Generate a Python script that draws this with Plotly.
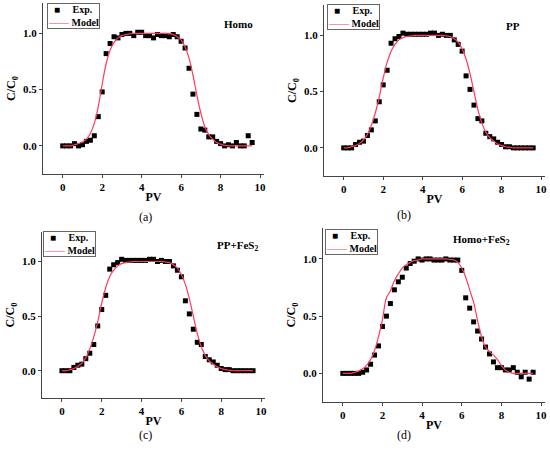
import plotly.graph_objects as go

# PV sampling of the experimental points (every 0.2 pore volume)
pv = [round(0.2 * i, 1) for i in range(49)]

exp_homo = [0.0, 0.0, 0.0, 0.02, 0.0, 0.01, 0.04, 0.05, 0.09, 0.26,
            0.48, 0.82, 0.91, 0.97, 0.96, 0.99, 1.0, 1.0, 0.98, 1.01,
            1.01, 0.98, 0.98, 0.96, 0.99, 0.98, 0.98, 0.97, 0.99, 0.97,
            0.93, 0.87, 0.69, 0.46, 0.28, 0.15, 0.14, 0.08, 0.08, 0.04,
            0.02, 0.0, 0.01, 0.0, 0.03, 0.0, 0.0, 0.09, 0.03]

exp_pp = [0.0, 0.0, 0.0, 0.03, 0.05, 0.06, 0.11, 0.16, 0.24, 0.41,
          0.56, 0.69, 0.93, 0.97, 0.99, 1.02, 1.01, 1.01, 1.01, 1.01,
          1.01, 1.01, 1.02, 1.02, 1.0, 1.01, 1.0, 1.0, 0.96, 0.92,
          0.86, 0.64, 0.52, 0.38, 0.26, 0.24, 0.13, 0.1, 0.08, 0.05,
          0.03, 0.01, 0.01, 0.0, 0.0, 0.0, 0.0, 0.0, 0.0]

exp_pp_fes2 = [0.0, 0.0, 0.0, 0.03, 0.05, 0.06, 0.11, 0.16, 0.24, 0.41,
               0.56, 0.69, 0.93, 0.97, 0.99, 1.02, 1.01, 1.01, 1.01, 1.01,
               1.01, 1.01, 1.02, 1.02, 1.0, 1.01, 1.0, 1.0, 0.96, 0.92,
               0.86, 0.64, 0.52, 0.38, 0.26, 0.24, 0.13, 0.1, 0.08, 0.05,
               0.02, 0.01, 0.01, 0.0, 0.0, 0.0, 0.0, 0.0, 0.0]

exp_homo_fes2 = [0.0, 0.0, 0.0, 0.0, 0.0, 0.01, 0.03, 0.08, 0.16, 0.24,
                 0.41, 0.5, 0.61, 0.73, 0.8, 0.84, 0.92, 0.96, 0.98, 1.0,
                 0.99, 1.0, 1.0, 0.99, 0.99, 0.99, 1.0, 0.99, 0.99, 0.99,
                 0.9, 0.66, 0.57, 0.45, 0.37, 0.3, 0.23, 0.17, 0.1, 0.05,
                 0.05, 0.03, 0.03, 0.05, 0.01, -0.03, 0.01, -0.05, 0.01]

# model curves
model_homo = [0.0, 0.0, 0.0, 0.01, 0.02, 0.035, 0.06, 0.11, 0.2, 0.35,
              0.55, 0.73, 0.85, 0.92, 0.96, 0.98, 0.99, 0.995, 1.0, 1.0,
              1.0, 1.0, 1.0, 1.0, 1.0, 1.0, 1.0, 1.0, 0.99, 0.97,
              0.94, 0.88, 0.78, 0.63, 0.45, 0.29, 0.17, 0.1, 0.06, 0.03,
              0.015, 0.005, 0.0, 0.0, 0.0, 0.0, 0.0, 0.0, 0.0]

model_pp = [0.0, 0.0, 0.01, 0.02, 0.04, 0.07, 0.12, 0.2, 0.31, 0.45,
            0.62, 0.76, 0.86, 0.92, 0.96, 0.98, 0.99, 0.995, 1.0, 1.0,
            1.0, 1.0, 1.0, 1.0, 1.0, 1.0, 0.995, 0.99, 0.97, 0.94,
            0.88, 0.79, 0.66, 0.5, 0.34, 0.22, 0.14, 0.09, 0.06, 0.035,
            0.02, 0.01, 0.005, 0.0, 0.0, 0.0, 0.0, 0.0, 0.0]

model_homo_fes2 = [0.0, 0.0, 0.0, 0.01, 0.02, 0.04, 0.07, 0.12, 0.2, 0.32,
                   0.47, 0.66, 0.72, 0.81, 0.87, 0.92, 0.95, 0.97, 0.985, 0.99,
                   1.0, 1.0, 1.0, 1.0, 1.0, 1.0, 1.0, 0.995, 0.99, 0.97,
                   0.92, 0.84, 0.73, 0.62, 0.46, 0.32, 0.23, 0.19, 0.16, 0.12,
                   0.07, 0.03, 0.01, 0.0, 0.0, 0.0, 0.0, 0.0, 0.0]

panel_names = ["Homo", "PP", "PP+FeS<sub>2</sub>", "Homo+FeS<sub>2</sub>"]
panel_tags = ["(a)", "(b)", "(c)", "(d)"]
exp_sets = [exp_homo, exp_pp, exp_pp_fes2, exp_homo_fes2]
model_sets = [model_homo, model_pp, model_pp, model_homo_fes2]

W, H = 550, 452
FONT = "Liberation Serif"
RED = "#ff3b5c"

# pixel boxes of each plot area: left, right, top, bottom
boxes = [(43, 264, 3, 174), (324, 545, 5, 176), (42, 265, 232, 398), (323, 545, 228, 402)]
legend_pos = [(47, 3), (327, 4), (43, 231), (325, 229)]
name_pos = [(238, 16), (522, 18), (237, 246), (512, 240)]
tag_pos = [(137, 217), (413, 215), (137, 444), (413, 444)]

fig = go.Figure()
annotations = []

for i in range(4):
    sfx = "" if i == 0 else str(i + 1)
    fig.add_trace(go.Scatter(
        x=pv, y=exp_sets[i], mode="markers", name="Exp.",
        marker=dict(symbol="square", size=5, color="black"),
        xaxis="x" + sfx, yaxis="y" + sfx, showlegend=False))
    fig.add_trace(go.Scatter(
        x=pv, y=model_sets[i], mode="lines", name="Model",
        line=dict(color=RED, width=1.2, shape="spline"),
        xaxis="x" + sfx, yaxis="y" + sfx, showlegend=False))

    l, r, t, b = boxes[i]
    axis_style = dict(showline=True, linecolor="#444", linewidth=1, showgrid=False,
                      zeroline=False, ticks="outside", ticklen=3, tickcolor="#444",
                      automargin=False,
                      tickfont=dict(family=FONT, size=11, color="black", weight="bold"))
    fig.layout["xaxis" + sfx] = dict(
        axis_style, domain=[l / W, r / W], range=[-1, 10.2],
        tickvals=[0, 2, 4, 6, 8, 10], anchor="y" + sfx,
        title=dict(text="PV", standoff=0,
                   font=dict(family=FONT, size=12, color="black", weight="bold")))
    fig.layout["yaxis" + sfx] = dict(
        axis_style, domain=[1 - b / H, 1 - t / H], range=[-0.25, 1.27],
        tickvals=[0, 0.5, 1.0], tickformat=".1f", anchor="x" + sfx,
        title=dict(text="C/C<sub>0</sub>", standoff=4,
                   font=dict(family=FONT, size=12, color="black", weight="bold")))

    # compact legend box like the original
    lx, ly = legend_pos[i]
    annotations.append(dict(
        x=lx / W, y=1 - ly / H, xref="paper", yref="paper",
        xanchor="left", yanchor="top", align="left", showarrow=False,
        text="  <span style='color:black'>&#9632;</span>     <b>Exp.</b><br>"
             "<span style='color:%s'>&#8212;&#8212;</span> <b>Model</b>" % RED,
        font=dict(family=FONT, size=10, color="black"),
        bgcolor="white", bordercolor="#666", borderwidth=1, borderpad=0))

    nx, ny = name_pos[i]
    annotations.append(dict(x=nx / W, y=1 - ny / H, xref="paper", yref="paper",
                            text="<b>" + panel_names[i] + "</b>", showarrow=False,
                            font=dict(family=FONT, size=11, color="black")))
    tx, ty = tag_pos[i]
    annotations.append(dict(x=tx / W, y=1 - ty / H, xref="paper", yref="paper",
                            text=panel_tags[i], showarrow=False,
                            font=dict(family=FONT, size=12, color="black")))

fig.update_layout(width=W, height=H, margin=dict(l=0, r=0, t=0, b=0),
                  plot_bgcolor="white", paper_bgcolor="white",
                  annotations=annotations, showlegend=False)

# drop the default page margin so the figure fills the window exactly
fig.write_html("out.html", config={"displayModeBar": False},
               post_script="document.body.style.margin='0';"
                           "document.body.style.overflow='hidden';")
